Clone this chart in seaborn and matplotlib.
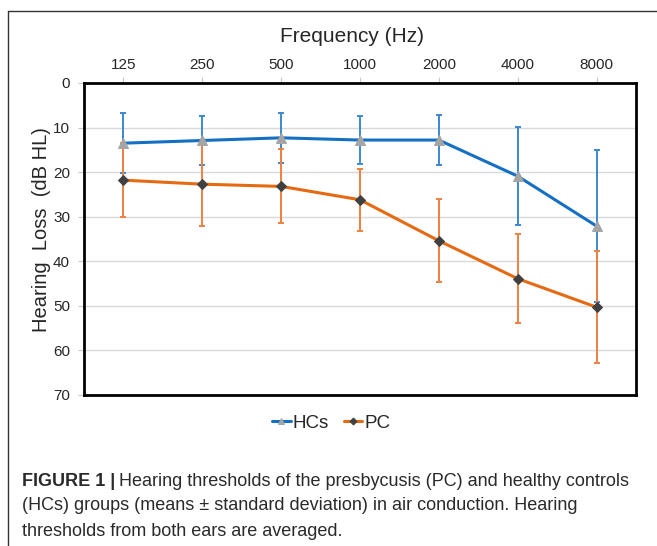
import matplotlib
matplotlib.use("Agg")
import matplotlib.pyplot as plt
import seaborn as sns
import pandas as pd
import numpy as np
from matplotlib.lines import Line2D

# ---- data ----
freqs = ["125", "250", "500", "1000", "2000", "4000", "8000"]
hc_mean = [13.5, 12.9, 12.3, 12.8, 12.8, 20.9, 32.1]
hc_sd = [6.8, 5.4, 5.6, 5.3, 5.7, 11.0, 17.1]
pc_mean = [21.8, 22.7, 23.2, 26.2, 35.4, 43.9, 50.3]
pc_sd = [8.3, 9.4, 8.3, 7.0, 9.3, 10.0, 12.6]
yticks = [0, 10, 20, 30, 40, 50, 60, 70]

sns.set_theme(style="white")
plt.rcParams['font.family'] = ['Liberation Sans', 'DejaVu Sans']

W, H = 657, 546
fig = plt.figure(figsize=(W / 100, H / 100), dpi=100)
ax = fig.add_axes([84 / W, 1 - 395 / H, (636 - 84) / W, (395 - 83) / H])

pos = np.arange(len(freqs))
df = pd.DataFrame({
    "pos": np.concatenate([pos, pos]),
    "val": hc_mean + pc_mean,
    "grp": ["HCs"] * len(freqs) + ["PC"] * len(freqs),
})

blue_line = "#1570C4"
blue_err = "#3C88D2"
orange_line = "#E56A12"
orange_err = "#EE8040"

# error bars
ax.errorbar(pos, hc_mean, yerr=hc_sd, fmt="none", ecolor=blue_err,
            elinewidth=1.4, capsize=2.2, capthick=1.4, zorder=2)
ax.errorbar(pos, pc_mean, yerr=pc_sd, fmt="none", ecolor=orange_err,
            elinewidth=1.4, capsize=2.2, capthick=1.4, zorder=2)

sns.lineplot(data=df[df.grp == "HCs"], x="pos", y="val", ax=ax,
             color=blue_line, linewidth=2.2, marker="^", markersize=7,
             markerfacecolor="#A5A5A5", markeredgecolor="#A5A5A5",
             zorder=3, label="HCs")
sns.lineplot(data=df[df.grp == "PC"], x="pos", y="val", ax=ax,
             color=orange_line, linewidth=2.2, marker="D", markersize=5,
             markerfacecolor="#404040", markeredgecolor="#404040",
             zorder=3, label="PC")

ax.set_xlim(-0.5, len(freqs) - 0.5)
ax.set_ylim(70, 0)
ax.set_yticks(yticks)
ax.set_yticklabels([str(v) for v in yticks], fontsize=11)
ax.set_xticks(pos)
ax.set_xticklabels(freqs, fontsize=11)
ax.xaxis.tick_top()
ax.xaxis.set_label_position("top")
ax.tick_params(axis="x", which="both", top=True, bottom=False, length=4,
               color="#C8C8C8", width=0.8, pad=4)
ax.tick_params(axis="y", which="both", left=True, length=4,
               color="#C8C8C8", width=0.8, pad=6)
ax.set_xlabel("Frequency (Hz)", fontsize=15)
ax.xaxis.set_label_coords((352 - 84) / 552, (395 - 37) / 312)
ax.xaxis.label.set_va("center")
ax.set_ylabel("Hearing  Loss  (dB HL)", fontsize=14.5)
ax.yaxis.set_label_coords((42 - 84) / 552, (395 - 230) / 312)
ax.yaxis.label.set_va("center")

ax.yaxis.grid(True, color="#D9D9D9", linewidth=1.0)
ax.xaxis.grid(False)
ax.set_axisbelow(True)
for s in ax.spines.values():
    s.set_visible(True)
    s.set_color("black")
    s.set_linewidth(2.0)

leg = ax.legend(loc="center", bbox_to_anchor=(331 / W, 1 - 423 / H),
                bbox_transform=fig.transFigure, ncol=2, frameon=False,
                fontsize=13.5, handlelength=1.0, handletextpad=0.1,
                columnspacing=0.8, markerscale=0.7)

# outer frame lines
fig.add_artist(Line2D([8 / W, 8 / W], [0, 1 - 11 / H], transform=fig.transFigure,
                      color="#333333", linewidth=1.0))
fig.add_artist(Line2D([8 / W, 1], [1 - 11 / H, 1 - 11 / H], transform=fig.transFigure,
                      color="#333333", linewidth=1.0))

# caption
cap_fs = 13
cap_color = "#2a2a2a"
fig.canvas.draw()
renderer = fig.canvas.get_renderer()
t_bold = fig.text(22 / W, 1 - 481 / H, "FIGURE 1 |", fontsize=cap_fs,
                  fontweight="bold", color=cap_color, va="center", ha="left")
bb = t_bold.get_window_extent(renderer=renderer)
fig.text((bb.x1 + 4) / W, 1 - 481 / H,
         "Hearing thresholds of the presbycusis (PC) and healthy controls",
         fontsize=cap_fs, color=cap_color, va="center", ha="left")
fig.text(22 / W, 1 - 506 / H,
         "(HCs) groups (means \u00b1 standard deviation) in air conduction. Hearing",
         fontsize=cap_fs, color=cap_color, va="center", ha="left")
fig.text(22 / W, 1 - 531 / H,
         "thresholds from both ears are averaged.",
         fontsize=cap_fs, color=cap_color, va="center", ha="left")

fig.savefig("out.png", dpi=100)
